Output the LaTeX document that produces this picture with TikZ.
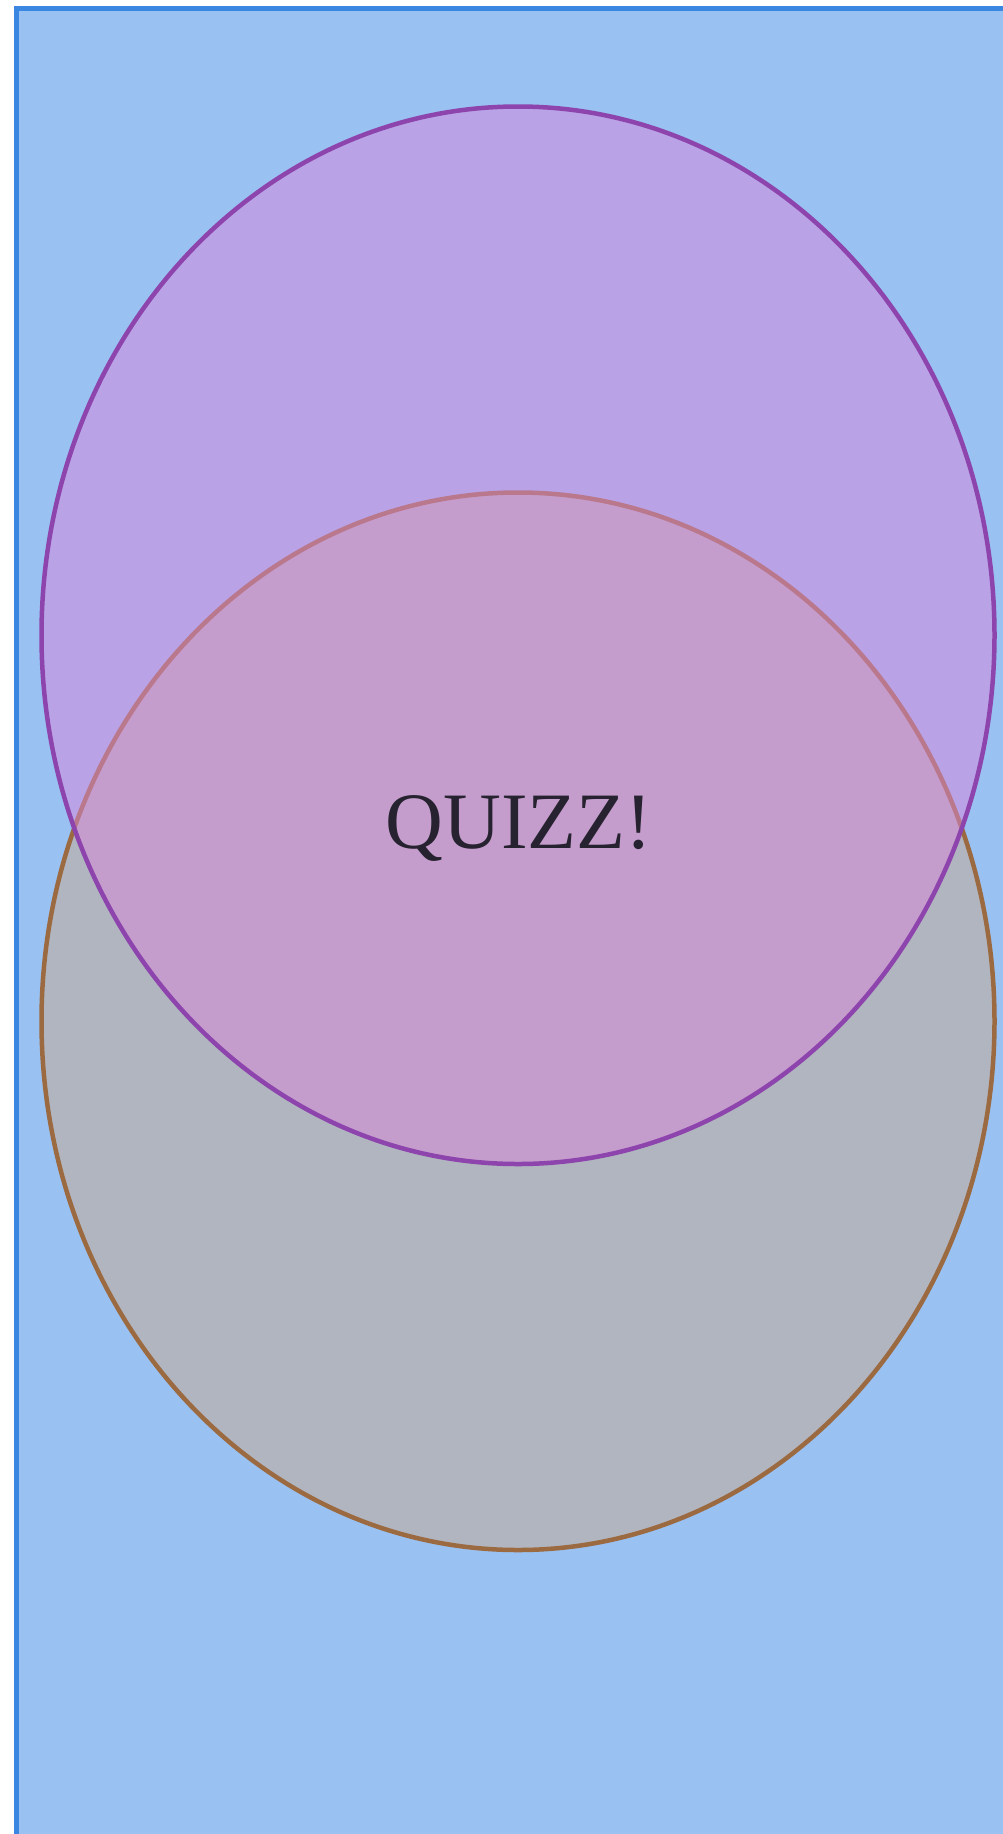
\documentclass[tikz,border=0pt]{standalone}
\usepackage{fontspec}
\setmainfont{Liberation Serif}
\definecolor{bgfill}{HTML}{99C1F2}
\definecolor{bgline}{HTML}{3A86E0}
\definecolor{greyfill}{HTML}{B1B5C0}
\definecolor{brownline}{HTML}{9C6A40}
\definecolor{purplefill}{RGB}{217,134,219}
\definecolor{purpleline}{HTML}{8E44AD}
\definecolor{textcol}{HTML}{26222F}
\begin{document}
\begin{tikzpicture}[x=1pt,y=-1pt,
  panel/.style={fill=bgfill,draw=bgline,line width=4.5pt},
  lowerset/.style={fill=greyfill,draw=brownline,line width=4.5pt},
  upperset/.style={fill=purplefill,fill opacity=0.5,draw=purpleline,line width=4.5pt},
  label/.style={text=textcol,font=\fontsize{80}{86}\selectfont,inner sep=0pt}]
\useasboundingbox (0,0) rectangle (1002,1834);
\draw[panel] (16.5,8.5) rectangle (1100,1950);
\draw[lowerset] (518,1021.25) ellipse [x radius=476.5, y radius=528.75];
\draw[upperset] (518,635.25) ellipse [x radius=476.5, y radius=528.75];
\node[label,anchor=base] (quiz) at (519,848) {QUIZZ!};
\end{tikzpicture}
\end{document}
